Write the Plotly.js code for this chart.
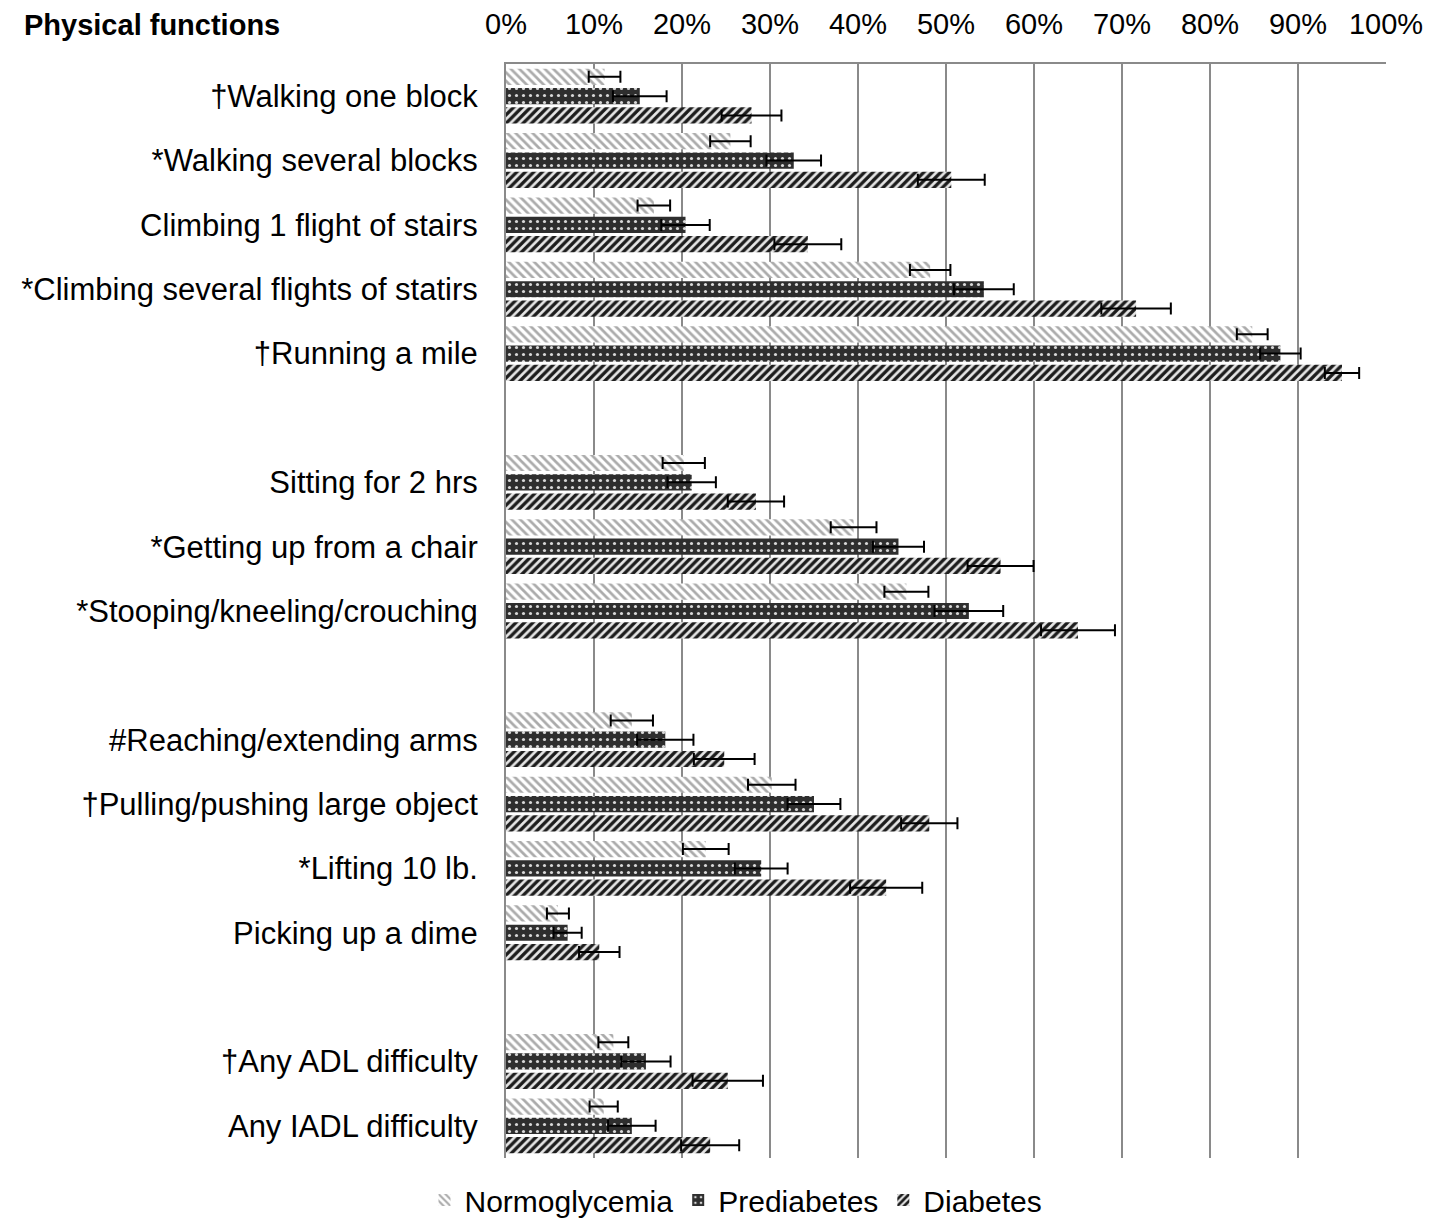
<!DOCTYPE html>
<html>
<head>
<meta charset="utf-8">
<script src="https://cdn.plot.ly/plotly-3.0.1.min.js"></script>
<style>
html,body{margin:0;padding:0;background:#fff;}
#chart{width:1446px;height:1222px;}
</style>
</head>
<body>
<div id="chart"></div>
<script>
// Categories (top to bottom)
var categories = [
  '†Walking one block',
  '*Walking several blocks',
  'Climbing 1 flight of stairs',
  '*Climbing several flights of statirs',
  '†Running a mile',
  'Sitting for 2 hrs',
  '*Getting up from a chair',
  '*Stooping/kneeling/crouching',
  '#Reaching/extending arms',
  '†Pulling/pushing large object',
  '*Lifting 10 lb.',
  'Picking up a dime',
  '†Any ADL difficulty',
  'Any IADL difficulty'
];
// indexes after which an empty gap row appears
var gapAfter = [4, 7, 11];

var seriesNames = ['Normoglycemia', 'Prediabetes', 'Diabetes'];

var normoglycemia    = [11.2, 25.5, 16.8, 48.2, 84.8, 20.2, 39.5, 45.5, 14.3, 30.2, 22.7, 5.9, 12.2, 11.1];
var normoglycemiaErr = [1.8, 2.3, 1.85, 2.3, 1.75, 2.4, 2.6, 2.5, 2.4, 2.7, 2.6, 1.25, 1.7, 1.6];
var prediabetes      = [15.2, 32.7, 20.4, 54.3, 88.0, 21.1, 44.6, 52.6, 18.1, 35.0, 29.0, 7.0, 15.9, 14.3];
var prediabetesErr   = [3.05, 3.1, 2.75, 3.4, 2.3, 2.75, 2.9, 3.9, 3.2, 3.0, 3.0, 1.6, 2.8, 2.7];
var diabetes         = [27.9, 50.6, 34.3, 71.6, 95.0, 28.4, 56.2, 65.0, 24.8, 48.1, 43.2, 10.6, 25.2, 23.2];
var diabetesErr      = [3.4, 3.8, 3.8, 3.95, 1.95, 3.2, 3.75, 4.2, 3.45, 3.2, 4.1, 2.3, 4.0, 3.3];

var xTickVals = [0, 10, 20, 30, 40, 50, 60, 70, 80, 90, 100];
var xTickText = ['0%', '10%', '20%', '30%', '40%', '50%', '60%', '70%', '80%', '90%', '100%'];

// build full category order with invisible spacer rows, and expand series with nulls
function expand(arr, spacerValue) {
  var out = [];
  var n = 0;
  arr.forEach(function(v, i){
    out.push(v);
    if (gapAfter.indexOf(i) >= 0) {
      n++;
      out.push(spacerValue === undefined ? new Array(n + 1).join('\u200b') : spacerValue);
    }
  });
  return out;
}
var fullCats = expand(categories);

var FONT = 'Liberation Sans, Arial, sans-serif';

var styles = [
  {shape: '\\', bgcolor: '#ffffff', fgcolor: '#ababab', size: 6, solidity: 0.45},
  {shape: '.',  bgcolor: '#2e2e2e', fgcolor: '#d8d8d8', size: 7, solidity: 0.16},
  {shape: '/',  bgcolor: '#e6e6e6', fgcolor: '#1c1c1c', size: 6, solidity: 0.55}
];
var values = [normoglycemia, prediabetes, diabetes];
var errs = [normoglycemiaErr, prediabetesErr, diabetesErr];

var traces = values.map(function(v, k){
  return {
    type: 'bar',
    orientation: 'h',
    name: seriesNames[k],
    y: fullCats,
    x: expand(v, null),
    marker: {
      color: styles[k].bgcolor,
      line: {width: 0},
      pattern: {
        shape: styles[k].shape,
        bgcolor: styles[k].bgcolor,
        fgcolor: styles[k].fgcolor,
        fgopacity: 1,
        size: styles[k].size,
        solidity: styles[k].solidity
      }
    },
    error_x: {
      type: 'data',
      array: expand(errs[k], null),
      visible: true,
      color: '#000000',
      thickness: 2,
      width: 6
    },
    hoverinfo: 'skip'
  };
});

var layout = {
  width: 1446,
  height: 1222,
  paper_bgcolor: '#ffffff',
  plot_bgcolor: '#ffffff',
  font: {family: FONT, color: '#000000', size: 28},
  margin: {l: 506, r: 60, t: 64, b: 64, pad: 0},
  barmode: 'group',
  bargap: 0.1,
  bargroupgap: 0.16,
  title: {
    text: '<b>Physical functions</b>',
    font: {family: FONT, size: 29, color: '#000000'},
    x: 24 / 1446,
    xanchor: 'left',
    xref: 'container',
    y: 1 - 25 / 1222,
    yanchor: 'middle',
    yref: 'container'
  },
  xaxis: {
    side: 'top',
    range: [0, 100],
    tickmode: 'array',
    tickvals: xTickVals,
    ticktext: xTickText,
    tickfont: {family: FONT, size: 29, color: '#000000'},
    ticks: 'outside',
    ticklen: 16,
    tickcolor: 'rgba(0,0,0,0)',
    showgrid: true,
    gridcolor: '#8a8a8a',
    gridwidth: 1.5,
    showline: true,
    linecolor: '#8a8a8a',
    linewidth: 2,
    zeroline: false,
    fixedrange: true
  },
  yaxis: {
    type: 'category',
    categoryorder: 'array',
    categoryarray: fullCats,
    tickmode: 'array',
    tickvals: categories,
    ticktext: categories,
    range: [fullCats.length - 0.5, -0.5],
    tickfont: {family: FONT, size: 31, color: '#000000'},
    ticks: 'outside',
    ticklen: 20,
    tickcolor: 'rgba(0,0,0,0)',
    showgrid: false,
    showline: true,
    linecolor: '#8a8a8a',
    linewidth: 2,
    zeroline: false,
    automargin: false,
    fixedrange: true
  },
  showlegend: true,
  legend: {
    orientation: 'h',
    xref: 'container',
    yref: 'container',
    x: 736 / 1446,
    xanchor: 'center',
    y: 1 - 1200 / 1222,
    yanchor: 'middle',
    font: {family: FONT, size: 30, color: '#000000'},
    itemwidth: 30,
    bgcolor: 'rgba(0,0,0,0)'
  }
};

Plotly.newPlot('chart', traces, layout, {staticPlot: true, displayModeBar: false});
</script>
</body>
</html>
